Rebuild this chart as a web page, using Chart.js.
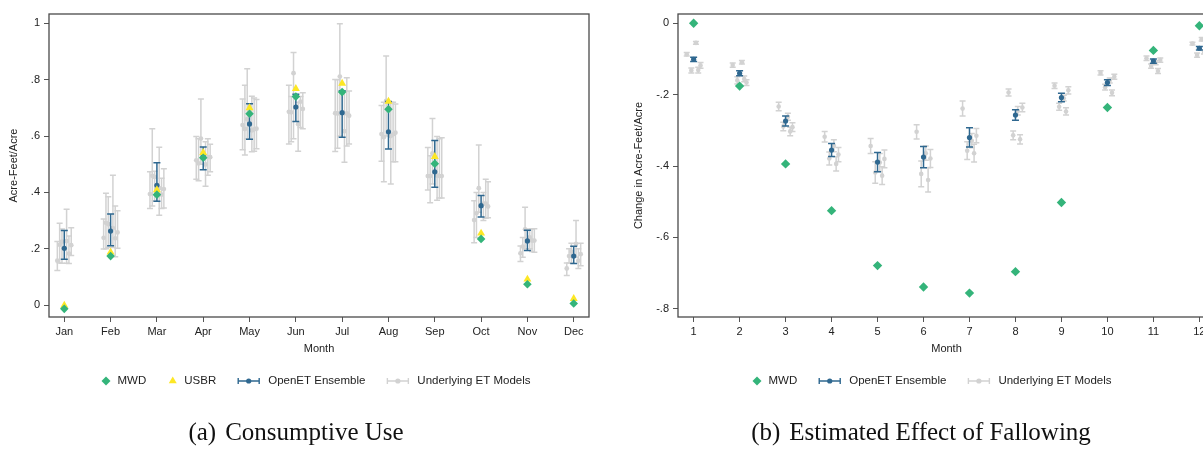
<!DOCTYPE html>
<html>
<head>
<meta charset="utf-8">
<script src="https://cdn.jsdelivr.net/npm/chart.js@4.4.0/dist/chart.umd.min.js"></script>
<style>
  html, body { margin: 0; padding: 0; background: #fff; width: 1203px; height: 453px; overflow: hidden; position: relative; }
  canvas { position: absolute; top: 0; }
  #cuChart { left: 0; }
  #fbChart { left: 600px; }
  .caption { position: absolute; top: 419px; font-family: 'Liberation Serif', serif; font-size: 25px; line-height: 25px; color: #111; white-space: nowrap; transform: translateX(-50%); }
  .caption span { margin-right: 9px; }
</style>
</head>
<body>
<canvas id="cuChart" width="600" height="453"></canvas>
<canvas id="fbChart" width="630" height="453"></canvas>
<div class="caption" style="left:296px"><span>(a)</span>Consumptive Use</div>
<div class="caption" style="left:921px"><span>(b)</span>Estimated Effect of Fallowing</div>
<script>
// months and tick labels
const months = [1, 2, 3, 4, 5, 6, 7, 8, 9, 10, 11, 12];
const monthNames = ['Jan', 'Feb', 'Mar', 'Apr', 'May', 'Jun', 'Jul', 'Aug', 'Sep', 'Oct', 'Nov', 'Dec'];
const monthNums = ['1', '2', '3', '4', '5', '6', '7', '8', '9', '10', '11', '12'];
const cuTickVals = [0, 0.2, 0.4, 0.6, 0.8, 1];
const cuTickLabels = ['0', '.2', '.4', '.6', '.8', '1'];
const fbTickVals = [-0.8, -0.6, -0.4, -0.2, 0];
const fbTickLabels = ['-.8', '-.6', '-.4', '-.2', '0'];

// (a) consumptive use, acre-feet/acre
const cuMWD = [-0.013, 0.174, 0.392, 0.523, 0.679, 0.74, 0.756, 0.695, 0.502, 0.235, 0.074, 0.006];
const cuUSBR = [-0.001, 0.188, 0.409, 0.541, 0.70, 0.768, 0.787, 0.723, 0.527, 0.255, 0.092, 0.023];
const cuEns = [0.202, 0.263, 0.425, 0.527, 0.643, 0.703, 0.683, 0.615, 0.473, 0.353, 0.228, 0.174];
const cuEnsLo = [0.163, 0.211, 0.369, 0.48, 0.589, 0.652, 0.596, 0.554, 0.418, 0.313, 0.194, 0.148];
const cuEnsHi = [0.265, 0.323, 0.505, 0.561, 0.715, 0.748, 0.761, 0.723, 0.584, 0.389, 0.266, 0.209];
// one row per month, one column per underlying model
const cuModel = [
  [0.158, 0.214, 0.225, 0.227, 0.183, 0.213],
  [0.239, 0.292, 0.287, 0.273, 0.237, 0.258],
  [0.394, 0.459, 0.455, 0.415, 0.392, 0.412],
  [0.514, 0.503, 0.591, 0.499, 0.525, 0.525],
  [0.639, 0.625, 0.66, 0.62, 0.624, 0.626],
  [0.686, 0.684, 0.823, 0.642, 0.722, 0.696],
  [0.681, 0.68, 0.811, 0.617, 0.68, 0.672],
  [0.607, 0.596, 0.725, 0.60, 0.606, 0.612],
  [0.458, 0.458, 0.538, 0.46, 0.458, 0.458],
  [0.302, 0.326, 0.415, 0.36, 0.36, 0.35],
  [0.184, 0.208, 0.269, 0.24, 0.229, 0.229],
  [0.13, 0.174, 0.19, 0.217, 0.158, 0.181]
];
const cuModelLo = [
  [0.123, 0.15, 0.149, 0.149, 0.148, 0.176],
  [0.199, 0.20, 0.205, 0.205, 0.172, 0.202],
  [0.343, 0.352, 0.37, 0.319, 0.343, 0.345],
  [0.447, 0.441, 0.50, 0.422, 0.461, 0.473],
  [0.551, 0.533, 0.59, 0.544, 0.546, 0.555],
  [0.572, 0.58, 0.59, 0.546, 0.63, 0.626],
  [0.545, 0.557, 0.60, 0.507, 0.565, 0.572],
  [0.511, 0.438, 0.60, 0.43, 0.509, 0.509],
  [0.409, 0.363, 0.43, 0.372, 0.38, 0.38],
  [0.221, 0.24, 0.33, 0.30, 0.308, 0.31],
  [0.155, 0.17, 0.2, 0.2, 0.19, 0.188],
  [0.105, 0.15, 0.15, 0.17, 0.13, 0.14]
];
const cuModelHi = [
  [0.226, 0.291, 0.27, 0.34, 0.245, 0.275],
  [0.306, 0.397, 0.385, 0.461, 0.352, 0.335],
  [0.473, 0.626, 0.475, 0.56, 0.45, 0.484],
  [0.598, 0.59, 0.731, 0.58, 0.59, 0.571],
  [0.731, 0.78, 0.839, 0.741, 0.735, 0.73],
  [0.78, 0.74, 0.896, 0.72, 0.74, 0.754],
  [0.801, 0.80, 0.998, 0.76, 0.807, 0.76],
  [0.708, 0.72, 0.884, 0.72, 0.72, 0.714],
  [0.559, 0.53, 0.662, 0.598, 0.59, 0.594],
  [0.37, 0.40, 0.568, 0.40, 0.447, 0.438],
  [0.21, 0.24, 0.347, 0.27, 0.27, 0.271],
  [0.15, 0.2, 0.22, 0.30, 0.2, 0.22]
];

// (b) estimated effect of fallowing, change in acre-feet/acre
const fbMWD = [0.0, -0.176, -0.394, -0.525, -0.679, -0.739, -0.756, -0.696, -0.502, -0.236, -0.076, -0.007];
const fbEns = [-0.101, -0.14, -0.274, -0.355, -0.389, -0.375, -0.32, -0.257, -0.208, -0.166, -0.106, -0.07];
const fbEnsErr = [0.006, 0.007, 0.014, 0.018, 0.027, 0.03, 0.027, 0.015, 0.012, 0.008, 0.006, 0.005];
const fbModel = [
  [-0.087, -0.132, -0.055, -0.131, -0.118],
  [-0.117, -0.16, -0.109, -0.156, -0.166],
  [-0.233, -0.289, -0.262, -0.303, -0.291],
  [-0.318, -0.379, -0.343, -0.394, -0.368],
  [-0.344, -0.418, -0.39, -0.427, -0.38],
  [-0.304, -0.422, -0.364, -0.439, -0.379],
  [-0.239, -0.357, -0.329, -0.364, -0.315],
  [-0.194, -0.314, -0.245, -0.325, -0.236],
  [-0.175, -0.234, -0.21, -0.247, -0.188],
  [-0.139, -0.179, -0.16, -0.195, -0.15],
  [-0.098, -0.12, -0.11, -0.134, -0.103],
  [-0.057, -0.089, -0.045, -0.08, -0.05]
];
const fbModelErr = [
  [0.005, 0.007, 0.004, 0.008, 0.008],
  [0.006, 0.01, 0.005, 0.008, 0.008],
  [0.012, 0.012, 0.01, 0.012, 0.012],
  [0.015, 0.018, 0.017, 0.02, 0.02],
  [0.021, 0.03, 0.025, 0.025, 0.025],
  [0.02, 0.036, 0.02, 0.034, 0.025],
  [0.021, 0.025, 0.02, 0.025, 0.02],
  [0.01, 0.012, 0.012, 0.013, 0.012],
  [0.008, 0.01, 0.008, 0.01, 0.01],
  [0.006, 0.008, 0.007, 0.008, 0.007],
  [0.006, 0.006, 0.006, 0.007, 0.006],
  [0.004, 0.006, 0.005, 0.006, 0.005]
];

// horizontal dodge of the underlying models around each month
const cuOffsets = [-0.15, -0.1, -0.05, 0.05, 0.1, 0.15];
const fbOffsets = [-0.15, -0.05, 0.05, 0.1, 0.15];

const GREEN = '#34b47a', YELLOW = '#fde725', BLUE = '#2f6890', GREY = '#d2d2d2';
const FONT = "'Liberation Sans', Arial, sans-serif";

Chart.defaults.font.family = FONT;
Chart.defaults.font.size = 11;
Chart.defaults.color = '#222';

function modelSets(mid, lo, hi, offsets, radius) {
  return offsets.map((off, k) => ({
    label: 'Underlying ET Models',
    data: months.map((m, i) => ({ x: m + off, y: mid[i][k] })),
    errLo: lo.map(r => r[k]),
    errHi: hi.map(r => r[k]),
    barColor: GREY, barWidth: 1.5, capHalf: 3,
    backgroundColor: GREY, borderColor: GREY, borderWidth: 0,
    pointRadius: radius, order: 10
  }));
}

const errorBars = {
  id: 'errorBars',
  beforeDatasetDraw(chart, args) {
    const ds = chart.data.datasets[args.index];
    if (!ds.errLo) return;
    const ctx = chart.ctx, y = chart.scales.y;
    ctx.save();
    ctx.strokeStyle = ds.barColor;
    ctx.lineWidth = ds.barWidth;
    args.meta.data.forEach((pt, i) => {
      const y1 = y.getPixelForValue(ds.errLo[i]);
      const y2 = y.getPixelForValue(ds.errHi[i]);
      const c = ds.capHalf;
      ctx.beginPath();
      ctx.moveTo(pt.x, y1); ctx.lineTo(pt.x, y2);
      ctx.moveTo(pt.x - c, y1); ctx.lineTo(pt.x + c, y1);
      ctx.moveTo(pt.x - c, y2); ctx.lineTo(pt.x + c, y2);
      ctx.stroke();
    });
    ctx.restore();
  }
};

const frame = {
  id: 'frame',
  beforeDatasetsDraw(chart) {
    const { ctx, chartArea: a } = chart;
    ctx.save();
    ctx.strokeStyle = '#4a4a4a';
    ctx.lineWidth = 1.3;
    ctx.strokeRect(a.left, a.top, a.right - a.left, a.bottom - a.top);
    ctx.restore();
  }
};

// legend row drawn under the axis title
function makeLegend(items, centerX, y) {
  return {
    id: 'rowLegend',
    afterDraw(chart) {
      const ctx = chart.ctx;
      ctx.save();
      ctx.font = '11.5px ' + FONT;
      const iconW = it => it.kind === 'bar' ? 30 : 16;
      const widths = items.map(it => iconW(it) + ctx.measureText(it.label).width);
      const total = widths.reduce((a, b) => a + b, 0) + 22 * (items.length - 1);
      let x = centerX - total / 2;
      items.forEach((it, i) => {
        ctx.fillStyle = it.color;
        ctx.strokeStyle = it.color;
        if (it.kind === 'diamond') {
          const cx = x + 4.5;
          ctx.beginPath();
          ctx.moveTo(cx, y - 4.5); ctx.lineTo(cx + 4.5, y); ctx.lineTo(cx, y + 4.5); ctx.lineTo(cx - 4.5, y);
          ctx.closePath(); ctx.fill();
        } else if (it.kind === 'triangle') {
          const cx = x + 4.5, r = 4.6;
          ctx.beginPath();
          ctx.moveTo(cx, y - r);
          ctx.lineTo(cx + r * 0.866, y + r / 2);
          ctx.lineTo(cx - r * 0.866, y + r / 2);
          ctx.closePath(); ctx.fill();
        } else {
          ctx.lineWidth = 1.4;
          ctx.beginPath();
          ctx.moveTo(x, y); ctx.lineTo(x + 21, y);
          ctx.moveTo(x, y - 3); ctx.lineTo(x, y + 3);
          ctx.moveTo(x + 21, y - 3); ctx.lineTo(x + 21, y + 3);
          ctx.stroke();
          ctx.beginPath(); ctx.arc(x + 10.5, y, 2.6, 0, Math.PI * 2); ctx.fill();
        }
        ctx.fillStyle = '#222';
        ctx.textBaseline = 'middle';
        ctx.fillText(it.label, x + iconW(it), y);
        x += widths[i] + 22;
      });
      ctx.restore();
    }
  };
}

function axisOptions(xMin, xMax, xLabels, yMin, yMax, yVals, yLabels, yTitle, yWidth) {
  return {
    x: {
      type: 'linear', min: xMin, max: xMax,
      afterBuildTicks: a => { a.ticks = months.map(v => ({ value: v })); },
      afterFit: a => { a.height = 48; },
      ticks: { callback: v => xLabels[months.indexOf(v)], autoSkip: false, maxRotation: 0, padding: 3 },
      grid: { drawOnChartArea: false, tickLength: 5, color: '#555' },
      border: { display: false },
      title: { display: true, text: 'Month', padding: { top: 0, bottom: 9 } }
    },
    y: {
      min: yMin, max: yMax,
      afterBuildTicks: a => { a.ticks = yVals.map(v => ({ value: v })); },
      afterFit: a => { a.width = yWidth; },
      ticks: { callback: v => yLabels[yVals.indexOf(v)], padding: 4 },
      grid: { drawOnChartArea: false, tickLength: 5, color: '#555' },
      border: { display: false },
      title: { display: true, text: yTitle, padding: { top: 0, bottom: 0 } }
    }
  };
}

new Chart(document.getElementById('cuChart'), {
  type: 'scatter',
  data: {
    datasets: [
      { label: 'MWD', data: months.map((m, i) => ({ x: m, y: cuMWD[i] })), pointStyle: 'rectRot', pointRadius: 4.3,
        backgroundColor: GREEN, borderColor: GREEN, borderWidth: 0, order: 1 },
      { label: 'USBR', data: months.map((m, i) => ({ x: m, y: cuUSBR[i] })), pointStyle: 'triangle', pointRadius: 4.6,
        backgroundColor: YELLOW, borderColor: YELLOW, borderWidth: 0, order: 2 },
      { label: 'OpenET Ensemble', data: months.map((m, i) => ({ x: m, y: cuEns[i] })), pointRadius: 2.6,
        errLo: cuEnsLo, errHi: cuEnsHi, barColor: BLUE, barWidth: 1.5, capHalf: 3.5,
        backgroundColor: BLUE, borderColor: BLUE, borderWidth: 0, order: 3 },
      ...modelSets(cuModel, cuModelLo, cuModelHi, cuOffsets, 2.4)
    ]
  },
  options: {
    responsive: false, animation: false, events: [],
    layout: { padding: { left: 7, top: 14, right: 11, bottom: 88 } },
    plugins: { legend: { display: false }, tooltip: { enabled: false } },
    scales: axisOptions(0.67, 12.33, monthNames, -0.042, 1.033, cuTickVals, cuTickLabels, 'Acre-Feet/Acre', 42)
  },
  plugins: [frame, errorBars, makeLegend([
    { kind: 'diamond', label: 'MWD', color: GREEN },
    { kind: 'triangle', label: 'USBR', color: YELLOW },
    { kind: 'bar', label: 'OpenET Ensemble', color: BLUE },
    { kind: 'bar', label: 'Underlying ET Models', color: GREY }
  ], 316, 381)]
});

new Chart(document.getElementById('fbChart'), {
  type: 'scatter',
  data: {
    datasets: [
      { label: 'MWD', data: months.map((m, i) => ({ x: m, y: fbMWD[i] })), pointStyle: 'rectRot', pointRadius: 4.7,
        backgroundColor: GREEN, borderColor: GREEN, borderWidth: 0, order: 1 },
      { label: 'OpenET Ensemble', data: months.map((m, i) => ({ x: m, y: fbEns[i] })), pointRadius: 2.6,
        errLo: fbEns.map((v, i) => v - fbEnsErr[i]), errHi: fbEns.map((v, i) => v + fbEnsErr[i]),
        barColor: BLUE, barWidth: 1.5, capHalf: 3.5,
        backgroundColor: BLUE, borderColor: BLUE, borderWidth: 0, order: 3 },
      ...modelSets(fbModel,
        fbModel.map((r, i) => r.map((v, k) => v - fbModelErr[i][k])),
        fbModel.map((r, i) => r.map((v, k) => v + fbModelErr[i][k])),
        fbOffsets, 2.3)
    ]
  },
  options: {
    responsive: false, animation: false, events: [],
    layout: { padding: { left: 32, top: 14, right: 15, bottom: 88 } },
    plugins: { legend: { display: false }, tooltip: { enabled: false } },
    scales: axisOptions(0.66, 12.34, monthNums, -0.823, 0.026, fbTickVals, fbTickLabels, 'Change in Acre-Feet/Acre', 46)
  },
  plugins: [frame, errorBars, makeLegend([
    { kind: 'diamond', label: 'MWD', color: GREEN },
    { kind: 'bar', label: 'OpenET Ensemble', color: BLUE },
    { kind: 'bar', label: 'Underlying ET Models', color: GREY }
  ], 332, 381)]
});
</script>
</body>
</html>
